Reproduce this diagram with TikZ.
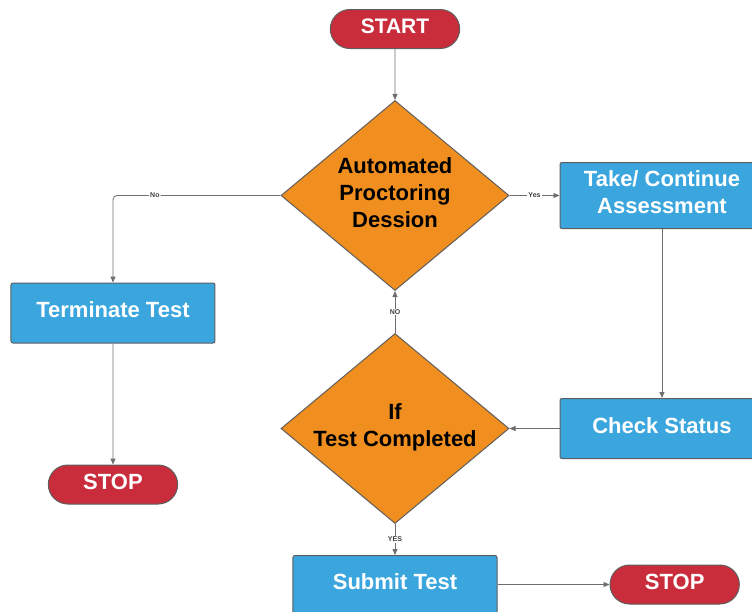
\documentclass[tikz,border=0pt]{standalone}
\usepackage{fontspec}
\setmainfont{Liberation Sans}
\usetikzlibrary{arrows.meta,shapes.geometric,shapes.misc,positioning}

\definecolor{boxblue}{HTML}{3BA6DE}
\definecolor{decorange}{HTML}{F08F1F}
\definecolor{termred}{HTML}{C92D3B}
\definecolor{edgegrey}{HTML}{5E5E5E}
\definecolor{linegrey}{HTML}{6E6E6E}

\tikzset{
  bigtext/.style={font=\fontsize{22}{27}\selectfont\bfseries, text depth=6pt},
  terminal/.style={bigtext, rounded rectangle, draw=edgegrey, line width=1pt,
    fill=termred, text=white, minimum width=136pt, minimum height=39pt},
  process/.style={bigtext, rectangle, rounded corners=2pt, draw=edgegrey, line width=1pt,
    fill=boxblue, text=white, align=center, minimum width=204pt, minimum height=60pt},
  decision/.style={bigtext, diamond, draw=edgegrey, line width=1pt, fill=decorange,
    align=center, inner sep=0pt, shape aspect=1.2, minimum width=228pt, minimum height=190pt},
  flowline/.style={draw=linegrey, line width=0.8pt},
  flowlabel/.style={font=\fontsize{7}{8}\selectfont\bfseries, text=black!75, fill=white, inner sep=1pt}
}

\begin{document}
\begin{tikzpicture}[>={Triangle[length=6pt,width=5pt]}]
  \useasboundingbox (-395pt,29pt) rectangle (357pt,-582pt);

  \node[terminal, font=\fontsize{21}{27}\selectfont\bfseries] (start) at (0,0) {START};
  \node[decision] (dec1) [below=51pt of start] {Automated\\Proctoring\\Dession};
  \node[process, minimum height=66pt] (take) [right=50pt of dec1] {Take/ Continue\\Assessment};
  \node[process] (check) [below=169pt of take] {Check Status};
  \node[decision] (dec2) [left=50pt of check] {If\\Test Completed};
  \node[process] (term) [below left=87pt and 65pt of dec1.west] {Terminate Test};
  \node[terminal] (stop1) [below=121pt of term] {STOP};
  \node[process, minimum height=58pt] (submit) [below=31pt of dec2] {Submit Test};
  \node[terminal] (stop2) [right=112pt of submit] {STOP};

  \draw[flowline, ->] (start) -- (dec1);
  \draw[flowline, ->, rounded corners=4pt] (dec1.west) -- (term.north |- dec1.west)
    node[flowlabel, pos=0.75] {No} -- (term.north);
  \draw[flowline, ->] (dec1.east) -- node[flowlabel, pos=0.5] {Yes} (take.west);
  \draw[flowline, ->] (take.south -| check.north) -- (check.north);
  \draw[flowline, ->] (check.west) -- (dec2.east);
  \draw[flowline, ->] (dec2.north) -- node[flowlabel] {NO} (dec1.south);
  \draw[flowline, ->] (dec2.south) -- node[flowlabel] {YES} (submit.north);
  \draw[flowline, ->] (term) -- (stop1);
  \draw[flowline, ->] (submit) -- (stop2);
\end{tikzpicture}
\end{document}
